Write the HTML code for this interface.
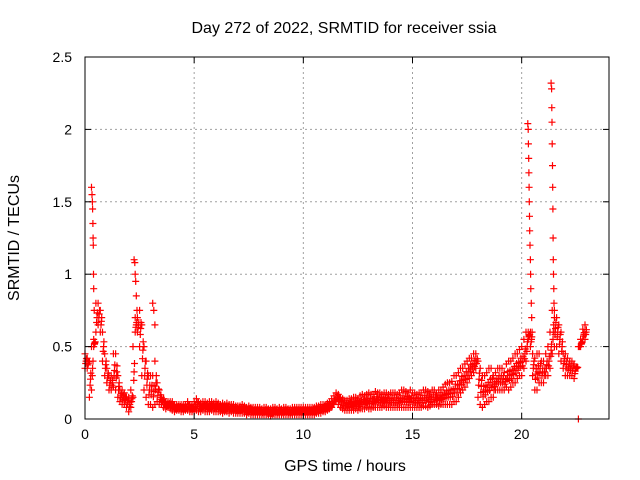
<!DOCTYPE html>
<html><head><meta charset="utf-8"><style>
body{margin:0;background:#fff}
svg{display:block;font-family:"Liberation Sans",sans-serif}
</style></head><body>
<svg id="chart" width="640" height="480" xmlns="http://www.w3.org/2000/svg">
<rect width="640" height="480" fill="#fff"/>
<text x="344" y="33" font-size="16" text-anchor="middle">Day 272 of 2022, SRMTID for receiver ssia</text>
<text x="345" y="471" font-size="16" text-anchor="middle">GPS time / hours</text>
<text transform="translate(19,238) rotate(-90)" font-size="16" text-anchor="middle">SRMTID / TECUs</text>
<g id="grid"></g><g id="marks"></g><g id="axes"></g>
</svg>
<script>
const xTicks=[0,5,10,15,20];
const yTicks=[0,0.5,1,1.5,2,2.5];
const yTickLabels=["0","0.5","1","1.5","2","2.5"];
// envelope of dense band, one row per hour, 0.1 h steps
const bandLo=[
[.35,.35,.15,.2,.5,.6,.65,.6,.4,.3],
[.25,.2,.2,.22,.2,.15,.12,.1,.1,.08],
[.05,.08,.15,.6,.6,.5,.3,.2,.15,.1],
[.1,.08,.1,.12,.1,.1,.08,.07,.08,.07],
[.06,.05,.06,.06,.05,.05,.06,.06,.05,.05],
[.05,.06,.05,.05,.06,.05,.05,.05,.06,.05],
[.05,.05,.05,.04,.05,.05,.04,.05,.04,.04],
[.04,.04,.04,.04,.03,.04,.03,.03,.03,.03],
[.03,.03,.03,.03,.03,.02,.03,.03,.03,.03],
[.03,.03,.03,.03,.03,.03,.03,.03,.03,.03],
[.03,.03,.03,.03,.03,.03,.04,.04,.04,.05],
[.05,.06,.07,.08,.1,.12,.1,.08,.07,.06],
[.06,.06,.06,.06,.07,.06,.07,.07,.07,.08],
[.07,.07,.08,.08,.08,.08,.08,.09,.08,.08],
[.08,.08,.08,.08,.08,.08,.08,.08,.08,.08],
[.08,.08,.08,.08,.08,.09,.09,.08,.09,.1],
[.1,.1,.09,.1,.1,.1,.1,.1,.1,.12],
[.12,.15,.18,.2,.22,.25,.28,.3,.32,.35],
[.15,.1,.08,.1,.12,.12,.15,.15,.2,.2],
[.2,.2,.2,.22,.2,.22,.25,.25,.28,.3],
[.3,.35,.4,.55,.5,.3,.2,.2,.25,.25],
[.25,.3,.3,.35,.45,.5,.5,.45,.4,.35],
[.3,.3,.3,.3,.28,.35,.5,.5,.55,.55]].flat();
const bandHi=[
[.45,.42,.4,.5,.55,.8,.8,.75,.6,.45],
[.35,.3,.3,.45,.45,.3,.2,.2,.18,.15],
[.15,.2,.5,.7,.7,.75,.65,.5,.4,.3],
[.3,.3,.4,.25,.2,.15,.14,.12,.12,.12],
[.12,.1,.1,.1,.1,.1,.1,.12,.1,.1],
[.12,.14,.12,.11,.12,.12,.11,.12,.12,.11],
[.12,.11,.1,.11,.1,.11,.1,.1,.1,.09],
[.09,.09,.1,.09,.08,.09,.08,.08,.08,.08],
[.08,.07,.08,.08,.07,.07,.08,.08,.07,.08],
[.07,.08,.08,.07,.07,.08,.08,.08,.08,.08],
[.08,.08,.08,.08,.08,.08,.09,.09,.1,.1],
[.1,.11,.12,.14,.16,.18,.17,.15,.14,.13],
[.13,.14,.14,.15,.15,.14,.16,.17,.16,.17],
[.18,.17,.17,.19,.18,.18,.17,.18,.18,.17],
[.18,.18,.18,.17,.18,.2,.2,.19,.18,.2],
[.18,.18,.17,.18,.18,.2,.2,.19,.18,.2],
[.2,.18,.2,.2,.22,.24,.25,.25,.26,.3],
[.3,.32,.35,.35,.38,.4,.42,.42,.45,.45],
[.4,.35,.3,.3,.32,.35,.35,.3,.32,.35],
[.35,.35,.32,.38,.4,.4,.42,.45,.45,.48],
[.5,.55,.6,.6,.6,.45,.42,.45,.45,.4],
[.4,.45,.5,.6,.75,.75,.7,.65,.6,.45],
[.45,.42,.4,.4,.38,.36,.5,.55,.62,.65]].flat();
const spikeT=[.3,.32,.34,.35,.36,.37,.38,.39,.4,.42, 2.25,2.28,2.3,2.32,2.35,2.38, 3.1,3.15,3.2,
20.28,20.3,20.31,20.32,20.33,20.34,20.35,20.36,20.37,20.38,20.4,20.41,20.42,20.44,20.46,20.48,
21.35,21.37,21.38,21.39,21.4,21.41,21.42,21.43,21.44,21.45,21.46,21.47,21.48,21.5,21.52, 22.6];
const spikeV=[1.6,1.55,1.5,1.45,1.35,1.25,1.2,1.0,0.9,0.75, 1.1,1.08,1.0,0.95,0.85,0.75, .8,.75,.65,
2.04,2.0,1.9,1.8,1.7,1.6,1.5,1.4,1.3,1.2,1.1,1.0,0.9,0.8,0.7,0.6,
2.32,2.28,2.15,2.05,1.9,1.75,1.6,1.45,1.25,1.1,1.0,0.9,0.8,0.7,0.6, 0];
const L=85,R=609,T=57,B=419;
const X=t=>L+t*(R-L)/24, Y=v=>B-v*(B-T)/2.5;
const NS="http://www.w3.org/2000/svg";
function mk(tag,at,parent){const e=document.createElementNS(NS,tag);for(const k in at)e.setAttribute(k,at[k]);parent.appendChild(e);return e;}
const grid=document.getElementById('grid'),marks=document.getElementById('marks'),axes=document.getElementById('axes');
xTicks.forEach(t=>{const x=X(t);
 if(t>0){const g=mk('line',{x1:x,x2:x,y1:T,y2:B,stroke:'#a0a0a0','stroke-dasharray':'2,3'},grid);
 
 }
 mk('line',{x1:x,x2:x,y1:B,y2:B-6,stroke:'#000'},axes);mk('line',{x1:x,x2:x,y1:T,y2:T+6,stroke:'#000'},axes);
 const l=mk('text',{x:x,y:B+20,'font-size':14,'text-anchor':'middle'},axes);l.textContent=t;
 
 
});
yTicks.forEach((v,i)=>{const y=Y(v);
 if(v>0&&v<2.5){const g=mk('line',{x1:L,x2:R,y1:y,y2:y,stroke:'#a0a0a0','stroke-dasharray':'2,3'},grid);
 
 }
 mk('line',{x1:L,x2:L+6,y1:y,y2:y,stroke:'#000'},axes);mk('line',{x1:R,x2:R-6,y1:y,y2:y,stroke:'#000'},axes);
 const l=mk('text',{x:72,y:y+5,'font-size':14,'text-anchor':'end'},axes);l.textContent=yTickLabels[i];
 
 
});
const fr=mk('rect',{x:L,y:T,width:R-L,height:B-T,fill:'none',stroke:'#000'},axes);


function plus(arr,t,v){if(!isFinite(t)||!isFinite(v))return;const x=X(t),y=Y(v);arr.push(`M${(x-3.5).toFixed(1)} ${y.toFixed(1)}h7M${x.toFixed(1)} ${(y-3.5).toFixed(1)}v7`);}
const bd=[];
bandLo.forEach((v,i)=>{const h=bandHi[i];const t=i*0.1;
 plus(bd,t,v);plus(bd,t,h);
 plus(bd,t+0.033,v+(h-v)/3);plus(bd,t+0.066,v+2*(h-v)/3);plus(bd,t+0.05,(v+h)/2);});
const sd=[];
spikeT.forEach((t,i)=>plus(sd,t,spikeV[i]));
const p=mk('path',{d:bd.join(''),stroke:'#f00','stroke-width':1.2,fill:'none'},marks);


const p2=mk('path',{d:sd.join(''),stroke:'#f00','stroke-width':1.2,fill:'none'},marks);


</script>
</body></html>
